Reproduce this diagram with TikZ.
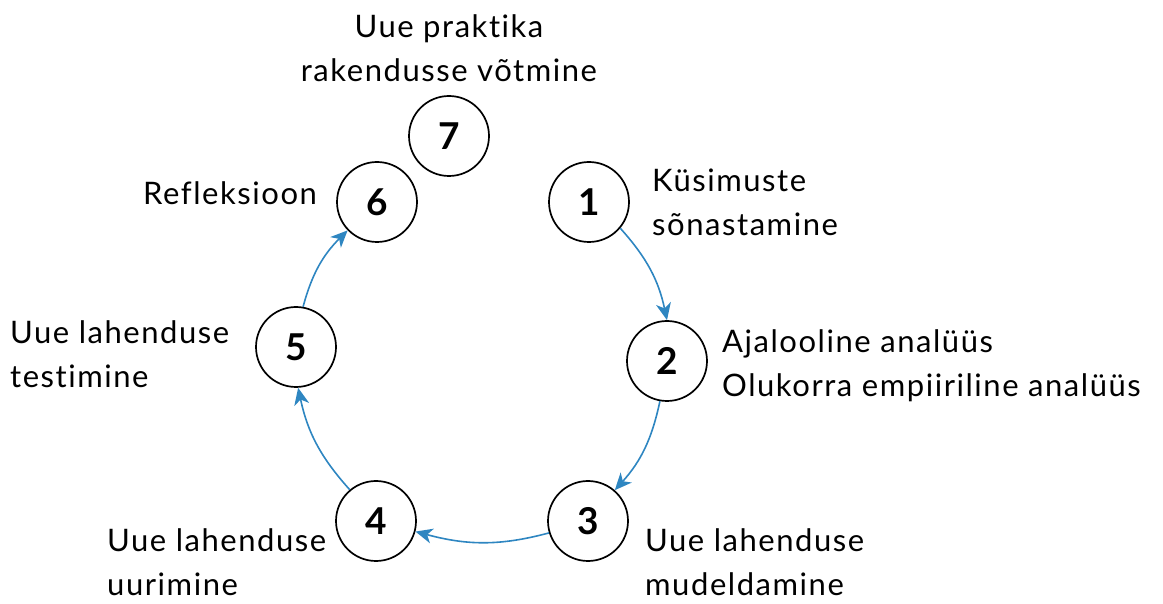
\documentclass[tikz,border=0pt]{standalone}
\usepackage{fontspec}
\setmainfont{Lato}[LetterSpace=5,Ligatures=NoCommon]
\newfontfamily\digitfont{Lato}
\usetikzlibrary{arrows.meta}
\definecolor{flow}{RGB}{46,134,193}
\begin{document}
\begin{tikzpicture}[x=1pt,y=1pt,
  stage/.style={circle,draw=black,line width=1.7pt,minimum size=80pt,inner sep=0pt,
    font=\digitfont\fontsize{37}{37}\selectfont\bfseries},
  label/.style={align=left,inner sep=0pt,font=\fontsize{31}{44}\selectfont},
  link/.style={draw=flow,line width=1.6pt,-{Stealth[length=17pt,width=15pt,inset=5pt]}}]
\useasboundingbox (0,0) rectangle (1163,603);
% stage circles
\node[stage] (c1) at (589,401) {1};
\node[stage] (c2) at (667,242) {2};
\node[stage] (c3) at (588,82) {3};
\node[stage] (c4) at (376,82) {4};
\node[stage] (c5) at (296,256) {5};
\node[stage] (c6) at (377,401) {6};
\node[stage] (c7) at (449,467) {7};
% stage descriptions
\node[label,anchor=west] (t1) at (652,401) {Küsimuste\\sõnastamine};
\node[label,anchor=west] (t2) at (722,237) {Ajalooline analüüs\\Olukorra empiiriline analüüs};
\node[label,anchor=west] (t3) at (645,41) {Uue lahenduse\\mudeldamine};
\node[label,anchor=west] (t4) at (107,41) {Uue lahenduse\\uurimine};
\node[label,anchor=west] (t5) at (10,249) {Uue lahenduse\\testimine};
\node[label,anchor=west] (t6) at (143,410) {Refleksioon};
\node[label,align=center] (t7) at (449,555) {Uue praktika\\rakendusse võtmine};
% cycle connectors
\path[link] (c1.-40) to[out=-48,in=102] (c2.north);
\path[link] (c2.-100) to[out=-102,in=48] (c3.49);
\path[link] (c3.-163) to[out=-165,in=-15] (c4.-15);
\path[link] (c4.130) to[out=132,in=-78] (c5.-87);
\path[link] (c5.80) to[out=75,in=-135] (c6.-136);
\end{tikzpicture}
\end{document}
